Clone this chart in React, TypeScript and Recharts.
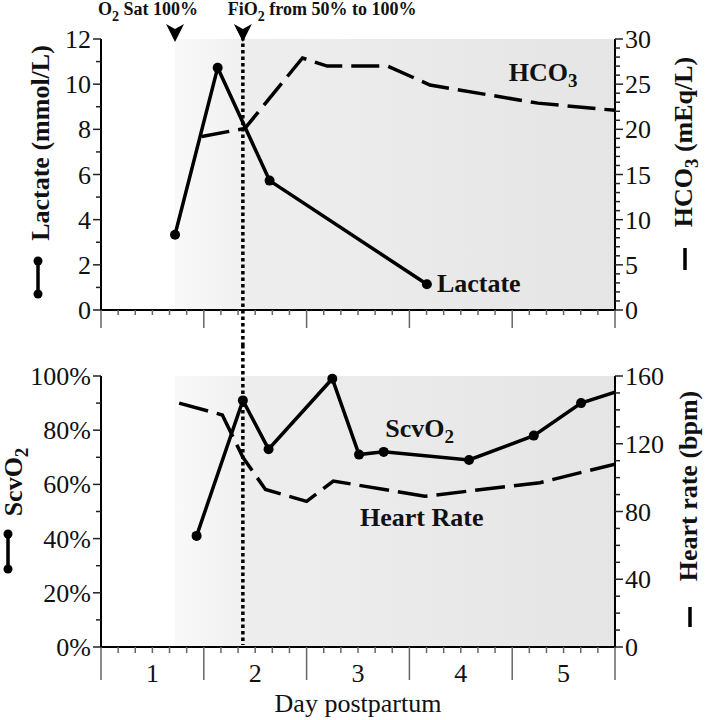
import {
  ComposedChart,
  Line,
  XAxis,
  YAxis,
  ReferenceArea,
  ReferenceLine,
  ReferenceDot,
} from 'recharts';

const FONT = '"Liberation Serif", "Times New Roman", Times, serif';
const W = 707;
const TOP_H = 345;
const BOTTOM_H = 375;

// lactate (mmol/L) - top panel, left axis
const lactateDays = [1.22, 1.635, 2.14, 3.67];
const lactateValues = [3.33, 10.73, 5.73, 1.14];

// HCO3 (mEq/L) - top panel, right axis
const hco3Days = [1.48, 1.9, 2.46, 2.7, 3.29, 3.7, 4.75, 5.5];
const hco3Values = [19.2, 20.1, 27.9, 27.0, 27.0, 24.9, 22.9, 22.1];

// ScvO2 (%) - bottom panel, left axis
const scvo2Days = [1.43, 1.88, 2.13, 2.75, 3.01, 3.25, 4.08, 4.71, 5.17, 5.5];
const scvo2Values = [41, 91, 73, 99, 71, 72, 69, 78, 90, 94];

// heart rate (bpm) - bottom panel, right axis
const hrDays = [1.26, 1.68, 1.88, 2.1, 2.5, 2.76, 3.65, 4.77, 5.5];
const hrValues = [144, 137, 112, 93, 86, 98, 89, 97, 108];

const dayLabels = [1, 2, 3, 4, 5];
const lactateTicks = [0, 2, 4, 6, 8, 10, 12];
const hco3Ticks = [0, 5, 10, 15, 20, 25, 30];
const scvo2Ticks = [0, 20, 40, 60, 80, 100];
const hrTicks = [0, 40, 80, 120, 160];

const o2SatDay = 1.22;
const fio2Day = 1.88;
const firstEdge = 0.5;
const lastEdge = 5.5;

const lactateData = lactateDays.map((day, i) => ({ day, lactate: lactateValues[i] }));
const hco3Data = hco3Days.map((day, i) => ({ day, hco3: hco3Values[i] }));
const scvo2Data = scvo2Days.map((day, i) => ({ day, scvo2: scvo2Values[i] }));
const hrData = hrDays.map((day, i) => ({ day, hr: hrValues[i] }));

// tick positions incl. minor ticks
const withMinor = (lo: number, hi: number, step: number) => {
  const out: number[] = [];
  for (let v = lo; v <= hi + 1e-9; v += step) out.push(+v.toFixed(4));
  return out;
};
const xTicks = withMinor(firstEdge, lastEdge, 1 / 6);
const isEdge = (v: number) => Math.abs(v - firstEdge - Math.round(v - firstEdge)) < 1e-3;
const isDay = (v: number) => dayLabels.some((d) => Math.abs(d - v) < 1e-3);

const makeYTick =
  (side: 'left' | 'right', majors: number[], fmt: (v: number) => string) =>
  (p: any) => {
    const v = p.payload.value;
    const major = majors.includes(v);
    const dir = side === 'left' ? -1 : 1;
    return (
      <g key={`t${side}${v}`}>
        <line x1={p.x} x2={p.x + dir * (major ? 8 : 5)} y1={p.y} y2={p.y} stroke="#222" strokeWidth={1.5} />
        {major && (
          <text
            x={p.x + dir * 10}
            y={p.y + 9}
            textAnchor={side === 'left' ? 'end' : 'start'}
            fontSize={26}
            fontFamily={FONT}
            fill="#111"
          >
            {fmt(v)}
          </text>
        )}
      </g>
    );
  };

const makeXTick = (majorLen: number, minorLen: number, labels: boolean) => (p: any) => {
  const v = p.payload.value;
  const edge = isEdge(v);
  return (
    <g key={`x${v}`}>
      <line x1={p.x} x2={p.x} y1={p.y} y2={p.y + (edge ? majorLen : minorLen)} stroke="#666" strokeWidth={1.5} />
      {labels && isDay(v) && (
        <text x={p.x} y={p.y + 35} textAnchor="middle" fontSize={26} fontFamily={FONT} fill="#111">
          {Math.round(v)}
        </text>
      )}
    </g>
  );
};

// text with one subscript: before + sub + after
const subText = (before: string, sub: string, after = '', subSize = 19) => (
  <>
    {before}
    <tspan dy={6} fontSize={subSize}>
      {sub}
    </tspan>
    {after ? <tspan dy={-6}>{after}</tspan> : null}
  </>
);

const DotIcon = ({ x, y1, y2 }: { x: number; y1: number; y2: number }) => (
  <g>
    <line x1={x} x2={x} y1={y1} y2={y2} stroke="#000" strokeWidth={3.5} />
    <circle cx={x} cy={y1} r={4.5} fill="#000" />
    <circle cx={x} cy={y2} r={4.5} fill="#000" />
  </g>
);

const BarIcon = ({ x, y1, y2 }: { x: number; y1: number; y2: number }) => (
  <line x1={x} x2={x} y1={y1} y2={y2} stroke="#000" strokeWidth={3.5} />
);

const rotText = (x: number, y: number, content: any) => (
  <text
    x={x}
    y={y}
    transform={`rotate(-90 ${x} ${y})`}
    textAnchor="middle"
    fontSize={26}
    fontWeight="bold"
    fontFamily={FONT}
    fill="#111"
  >
    {content}
  </text>
);

const Arrow = ({ cx, cy, textDx, anchor, children }: any) => {
  const top = cy - 15;
  const tip = cy + 3;
  return (
    <g>
      <path d={`M${cx - 9},${top} L${cx},${top + 5} L${cx + 9},${top} L${cx},${tip} Z`} fill="#000" />
      <text x={cx + textDx} y={cy - 24} textAnchor={anchor} fontSize={18} fontWeight="bold" fontFamily={FONT} fill="#111">
        {children}
      </text>
    </g>
  );
};

const TextMark = ({ cx, cy, dx = 0, anchor = 'middle', children }: any) => (
  <text x={cx + dx} y={cy + 9} textAnchor={anchor} fontSize={26} fontWeight="bold" fontFamily={FONT} fill="#111">
    {children}
  </text>
);

const Gradients = ({ id }: { id: string }) => (
  <defs>
    <linearGradient id={`${id}Light`} x1="0" y1="0" x2="1" y2="0">
      <stop offset="0%" stopColor="#f9f9f9" />
      <stop offset="100%" stopColor="#f0f0f0" />
    </linearGradient>
    <linearGradient id={`${id}Dark`} x1="0" y1="0" x2="1" y2="0">
      <stop offset="0%" stopColor="#eeeeee" />
      <stop offset="100%" stopColor="#e5e5e5" />
    </linearGradient>
  </defs>
);

const dottedProps = { stroke: '#000', strokeWidth: 3.5, strokeDasharray: '3.5 3' };

function TopChart() {
  return (
    <ComposedChart width={W} height={TOP_H} margin={{ top: 39, right: 46, bottom: 0, left: 55 }}>
      <Gradients id="top" />
      <ReferenceArea yAxisId="lac" x1={o2SatDay} x2={fio2Day} y1={0} y2={12} fill="url(#topLight)" fillOpacity={1} stroke="none" />
      <ReferenceArea yAxisId="lac" x1={fio2Day} x2={lastEdge} y1={0} y2={12} fill="url(#topDark)" fillOpacity={1} stroke="none" />
      <XAxis
        type="number"
        dataKey="day"
        domain={[firstEdge, lastEdge]}
        ticks={xTicks}
        interval={0}
        height={35}
        tickSize={0}
        tickMargin={0}
        tickLine={false}
        tick={makeXTick(18, 5, false)}
        axisLine={{ stroke: '#000', strokeWidth: 2 }}
        allowDataOverflow
      />
      <YAxis
        yAxisId="lac"
        type="number"
        domain={[0, 12]}
        ticks={withMinor(0, 12, 1)}
        interval={0}
        width={46}
        tickSize={0}
        tickMargin={0}
        tickLine={false}
        tick={makeYTick('left', lactateTicks, (v) => String(v))}
        axisLine={{ stroke: '#000', strokeWidth: 2 }}
        label={{
          content: (p: any) => {
            const vb = p.viewBox;
            if (!vb) return null;
            const ax = vb.x + vb.width;
            return (
              <g>
                {rotText(ax - 52, vb.y + 104, 'Lactate (mmol/L)')}
                <DotIcon x={ax - 63} y1={vb.y + 222} y2={vb.y + 255} />
              </g>
            );
          },
        }}
      />
      <YAxis
        yAxisId="hco3"
        orientation="right"
        type="number"
        domain={[0, 30]}
        ticks={withMinor(0, 30, 1)}
        interval={0}
        width={46}
        tickSize={0}
        tickMargin={0}
        tickLine={false}
        tick={makeYTick('right', hco3Ticks, (v) => String(v))}
        axisLine={{ stroke: '#000', strokeWidth: 2 }}
        label={{
          content: (p: any) => {
            const vb = p.viewBox;
            if (!vb) return null;
            const ax = vb.x;
            return (
              <g>
                {rotText(ax + 77, vb.y + 103, subText('HCO', '3', ' (mEq/L)'))}
                <BarIcon x={ax + 70} y1={vb.y + 209} y2={vb.y + 231} />
              </g>
            );
          },
        }}
      />
      <ReferenceLine
        yAxisId="lac"
        x={fio2Day}
        shape={(p: any) => (
          <line x1={p.x1} x2={p.x2} y1={Math.min(p.y1, p.y2) - 2} y2={TOP_H} {...dottedProps} />
        )}
      />
      <Line
        yAxisId="hco3"
        data={hco3Data}
        dataKey="hco3"
        type="linear"
        stroke="#000"
        strokeWidth={3.5}
        strokeDasharray="28 9"
        dot={false}
        isAnimationActive={false}
      />
      <Line
        yAxisId="lac"
        data={lactateData}
        dataKey="lactate"
        type="linear"
        stroke="#000"
        strokeWidth={3.5}
        dot={{ r: 5, fill: '#000', stroke: '#000', strokeWidth: 0 }}
        isAnimationActive={false}
      />
      <ReferenceDot
        yAxisId="lac"
        x={o2SatDay}
        y={12}
        shape={(p: any) => (
          <Arrow cx={p.cx} cy={p.cy} textDx={-27} anchor="middle">
            {subText('O', '2', ' Sat 100%', 14)}
          </Arrow>
        )}
      />
      <ReferenceDot
        yAxisId="lac"
        x={fio2Day}
        y={12}
        shape={(p: any) => (
          <Arrow cx={p.cx} cy={p.cy} textDx={-15} anchor="start">
            {subText('FiO', '2', ' from 50% to 100%', 14)}
          </Arrow>
        )}
      />
      <ReferenceDot
        yAxisId="hco3"
        x={4.8}
        y={26.4}
        shape={(p: any) => (
          <TextMark cx={p.cx} cy={p.cy}>
            {subText('HCO', '3')}
          </TextMark>
        )}
      />
      <ReferenceDot
        yAxisId="lac"
        x={lactateDays[lactateDays.length - 1]}
        y={lactateValues[lactateValues.length - 1]}
        shape={(p: any) => (
          <TextMark cx={p.cx} cy={p.cy - 1} dx={10} anchor="start">
            Lactate
          </TextMark>
        )}
      />
    </ComposedChart>
  );
}

function BottomChart() {
  const last = scvo2Days.length - 1;
  return (
    <ComposedChart width={W} height={BOTTOM_H} margin={{ top: 31, right: 46, bottom: 0, left: 55 }}>
      <Gradients id="bot" />
      <ReferenceArea yAxisId="scv" x1={o2SatDay} x2={fio2Day} y1={0} y2={100} fill="url(#botLight)" fillOpacity={1} stroke="none" />
      <ReferenceArea yAxisId="scv" x1={fio2Day} x2={lastEdge} y1={0} y2={100} fill="url(#botDark)" fillOpacity={1} stroke="none" />
      <XAxis
        type="number"
        dataKey="day"
        domain={[firstEdge, lastEdge]}
        ticks={xTicks}
        interval={0}
        height={73}
        tickSize={0}
        tickMargin={0}
        tickLine={false}
        tick={makeXTick(33, 6, true)}
        axisLine={{ stroke: '#000', strokeWidth: 2 }}
        allowDataOverflow
        label={{
          content: (p: any) => {
            const vb = p.viewBox;
            if (!vb) return null;
            return (
              <text x={vb.x + vb.width / 2} y={vb.y + 65} textAnchor="middle" fontSize={26} fontFamily={FONT} fill="#111">
                Day postpartum
              </text>
            );
          },
        }}
      />
      <YAxis
        yAxisId="scv"
        type="number"
        domain={[0, 100]}
        ticks={withMinor(0, 100, 10)}
        interval={0}
        width={46}
        tickSize={0}
        tickMargin={0}
        tickLine={false}
        tick={makeYTick('left', scvo2Ticks, (v) => `${v}%`)}
        axisLine={{ stroke: '#000', strokeWidth: 2 }}
        label={{
          content: (p: any) => {
            const vb = p.viewBox;
            if (!vb) return null;
            const ax = vb.x + vb.width;
            return (
              <g>
                {rotText(ax - 79, vb.y + 106, subText('ScvO', '2'))}
                <DotIcon x={ax - 93} y1={vb.y + 158} y2={vb.y + 193} />
              </g>
            );
          },
        }}
      />
      <YAxis
        yAxisId="hr"
        orientation="right"
        type="number"
        domain={[0, 160]}
        ticks={withMinor(0, 160, 10)}
        interval={0}
        width={46}
        tickSize={0}
        tickMargin={0}
        tickLine={false}
        tick={makeYTick('right', hrTicks, (v) => String(v))}
        axisLine={{ stroke: '#000', strokeWidth: 2 }}
        label={{
          content: (p: any) => {
            const vb = p.viewBox;
            if (!vb) return null;
            const ax = vb.x;
            return (
              <g>
                {rotText(ax + 82, vb.y + 110, 'Heart rate (bpm)')}
                <BarIcon x={ax + 75} y1={vb.y + 231} y2={vb.y + 251} />
              </g>
            );
          },
        }}
      />
      <ReferenceLine
        yAxisId="scv"
        x={fio2Day}
        shape={(p: any) => (
          <line x1={p.x1} x2={p.x2} y1={0} y2={Math.max(p.y1, p.y2) - 2} {...dottedProps} />
        )}
      />
      <Line
        yAxisId="hr"
        data={hrData}
        dataKey="hr"
        type="linear"
        stroke="#000"
        strokeWidth={3.5}
        strokeDasharray="30 9"
        dot={false}
        isAnimationActive={false}
      />
      <Line
        yAxisId="scv"
        data={scvo2Data}
        dataKey="scvo2"
        type="linear"
        stroke="#000"
        strokeWidth={3.5}
        dot={(p: any) =>
          p.index === last ? (
            <g key={`sd${p.index}`} />
          ) : (
            <circle key={`sd${p.index}`} cx={p.cx} cy={p.cy} r={5} fill="#000" />
          )
        }
        isAnimationActive={false}
      />
      <ReferenceDot
        yAxisId="scv"
        x={3.6}
        y={80.8}
        shape={(p: any) => (
          <TextMark cx={p.cx} cy={p.cy}>
            {subText('ScvO', '2')}
          </TextMark>
        )}
      />
      <ReferenceDot
        yAxisId="scv"
        x={3.62}
        y={48}
        shape={(p: any) => <TextMark cx={p.cx} cy={p.cy}>Heart Rate</TextMark>}
      />
    </ComposedChart>
  );
}

export default function App() {
  return (
    <div style={{ position: 'absolute', left: 0, top: 0, width: W, height: 720, background: '#fff' }}>
      <div style={{ position: 'absolute', left: 0, top: 0 }}>
        <TopChart />
      </div>
      <div style={{ position: 'absolute', left: 0, top: TOP_H }}>
        <BottomChart />
      </div>
    </div>
  );
}
